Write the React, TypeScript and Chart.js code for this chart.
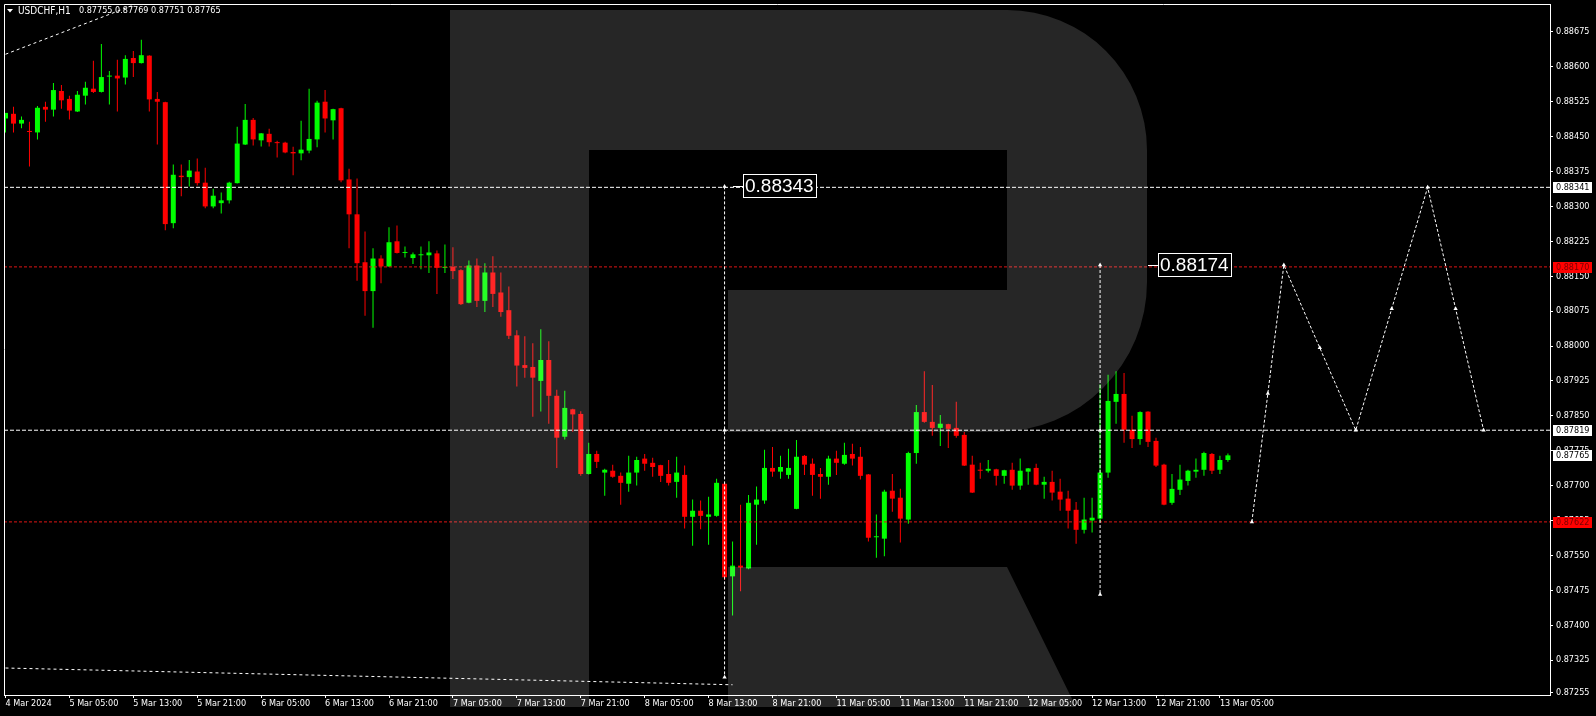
import { useEffect, useRef } from 'react';
import { Chart, registerables } from 'chart.js';

Chart.register(...registerables);

// ---- Candles (USDCHF H1, bar 0 = 4 Mar 21:00) ----
const openP = [
  0.88489, 0.88499, 0.88478, 0.88460, 0.88459, 0.88514, 0.88508, 0.88548, 0.88531, 0.88504,
  0.88538, 0.88553, 0.88546, 0.88579, 0.88581, 0.88577, 0.88619, 0.88608, 0.88624, 0.88531,
  0.88524, 0.88264, 0.88366, 0.88363, 0.88375, 0.88351, 0.88300, 0.88307, 0.88313, 0.88350,
  0.88433, 0.88486, 0.88442, 0.88456, 0.88437, 0.88437, 0.88417, 0.88414, 0.88420, 0.88444,
  0.88525, 0.88485, 0.88511, 0.88358, 0.88283, 0.88180, 0.88118, 0.88188, 0.88171, 0.88225,
  0.88200, 0.88189, 0.88195, 0.88195, 0.88199, 0.88168, 0.88170, 0.88163, 0.88093, 0.88173,
  0.88097, 0.88158, 0.88115, 0.88077, 0.88023, 0.87959, 0.87955, 0.87925, 0.87970, 0.87893,
  0.87805, 0.87864, 0.87854, 0.87725, 0.87768, 0.87728, 0.87732, 0.87721, 0.87704, 0.87728,
  0.87758, 0.87749, 0.87744, 0.87725, 0.87708, 0.87723, 0.87633, 0.87646, 0.87633, 0.87635,
  0.87704, 0.87505, 0.87528, 0.87522, 0.87659, 0.87668, 0.87738, 0.87730, 0.87723, 0.87650,
  0.87764, 0.87747, 0.87725, 0.87719, 0.87758, 0.87747, 0.87768, 0.87762, 0.87724, 0.87589,
  0.87586, 0.87689, 0.87674, 0.87627, 0.87770, 0.87858, 0.87837, 0.87824, 0.87832, 0.87824,
  0.87809, 0.87745, 0.87734, 0.87732, 0.87735, 0.87721, 0.87734, 0.87700, 0.87730, 0.87738,
  0.87702, 0.87708, 0.87687, 0.87672, 0.87648, 0.87605, 0.87625, 0.87629, 0.87728, 0.87880,
  0.87897, 0.87820, 0.87800, 0.87859, 0.87796, 0.87745, 0.87663, 0.87691, 0.87710, 0.87730,
  0.87734, 0.87768, 0.87734, 0.87755,
];
const highP = [
  0.88501, 0.88514, 0.88493, 0.88482, 0.88516, 0.88525, 0.88565, 0.88561, 0.88538, 0.88548,
  0.88568, 0.88613, 0.88649, 0.88591, 0.88615, 0.88625, 0.88634, 0.88658, 0.88625, 0.88546,
  0.88525, 0.88390, 0.88390, 0.88400, 0.88403, 0.88383, 0.88338, 0.88330, 0.88353, 0.88471,
  0.88520, 0.88490, 0.88458, 0.88467, 0.88441, 0.88439, 0.88428, 0.88484, 0.88553, 0.88527,
  0.88550, 0.88510, 0.88512, 0.88381, 0.88360, 0.88246, 0.88210, 0.88195, 0.88255, 0.88259,
  0.88214, 0.88201, 0.88214, 0.88225, 0.88205, 0.88218, 0.88212, 0.88165, 0.88184, 0.88188,
  0.88178, 0.88193, 0.88158, 0.88128, 0.88034, 0.88021, 0.88006, 0.88036, 0.88010, 0.87906,
  0.87904, 0.87865, 0.87860, 0.87792, 0.87775, 0.87736, 0.87745, 0.87728, 0.87764, 0.87762,
  0.87768, 0.87760, 0.87745, 0.87755, 0.87762, 0.87743, 0.87670, 0.87668, 0.87676, 0.87715,
  0.87706, 0.87580, 0.87659, 0.87680, 0.87698, 0.87777, 0.87783, 0.87764, 0.87779, 0.87798,
  0.87766, 0.87758, 0.87738, 0.87764, 0.87775, 0.87792, 0.87790, 0.87783, 0.87725, 0.87638,
  0.87691, 0.87725, 0.87693, 0.87773, 0.87873, 0.87946, 0.87916, 0.87852, 0.87833, 0.87880,
  0.87815, 0.87764, 0.87749, 0.87755, 0.87736, 0.87734, 0.87749, 0.87758, 0.87738, 0.87747,
  0.87719, 0.87732, 0.87715, 0.87689, 0.87665, 0.87674, 0.87674, 0.87918, 0.87938, 0.87946,
  0.87942, 0.87850, 0.87860, 0.87860, 0.87803, 0.87747, 0.87725, 0.87745, 0.87734, 0.87758,
  0.87773, 0.87770, 0.87764, 0.87769,
];
const lowP = [
  0.88459, 0.88459, 0.88468, 0.88386, 0.88444, 0.88482, 0.88493, 0.88510, 0.88487, 0.88503,
  0.88519, 0.88544, 0.88545, 0.88519, 0.88504, 0.88562, 0.88578, 0.88607, 0.88504, 0.88433,
  0.88249, 0.88253, 0.88322, 0.88343, 0.88345, 0.88296, 0.88296, 0.88285, 0.88306, 0.88349,
  0.88432, 0.88431, 0.88429, 0.88429, 0.88405, 0.88414, 0.88367, 0.88399, 0.88414, 0.88427,
  0.88459, 0.88444, 0.88352, 0.88210, 0.88140, 0.88065, 0.88039, 0.88135, 0.88170, 0.88199,
  0.88190, 0.88176, 0.88165, 0.88157, 0.88112, 0.88157, 0.88144, 0.88088, 0.88092, 0.88084,
  0.88073, 0.88084, 0.88063, 0.88015, 0.87913, 0.87932, 0.87848, 0.87859, 0.87833, 0.87738,
  0.87799, 0.87816, 0.87721, 0.87724, 0.87738, 0.87678, 0.87717, 0.87659, 0.87687, 0.87700,
  0.87732, 0.87719, 0.87708, 0.87700, 0.87674, 0.87608, 0.87571, 0.87606, 0.87573, 0.87633,
  0.87497, 0.87421, 0.87473, 0.87520, 0.87573, 0.87661, 0.87719, 0.87715, 0.87715, 0.87649,
  0.87723, 0.87678, 0.87672, 0.87702, 0.87723, 0.87745, 0.87743, 0.87713, 0.87580, 0.87545,
  0.87548, 0.87644, 0.87578, 0.87618, 0.87747, 0.87835, 0.87807, 0.87785, 0.87781, 0.87803,
  0.87742, 0.87684, 0.87715, 0.87728, 0.87700, 0.87704, 0.87691, 0.87691, 0.87702, 0.87701,
  0.87672, 0.87668, 0.87646, 0.87608, 0.87575, 0.87597, 0.87599, 0.87622, 0.87717, 0.87833,
  0.87792, 0.87781, 0.87788, 0.87783, 0.87740, 0.87658, 0.87659, 0.87680, 0.87700, 0.87717,
  0.87721, 0.87725, 0.87725, 0.87751,
];
const closeP = [
  0.88501, 0.88478, 0.88486, 0.88460, 0.88512, 0.88508, 0.88550, 0.88528, 0.88506, 0.88540,
  0.88555, 0.88546, 0.88578, 0.88581, 0.88575, 0.88617, 0.88608, 0.88625, 0.88530, 0.88525,
  0.88262, 0.88368, 0.88363, 0.88377, 0.88350, 0.88300, 0.88323, 0.88313, 0.88351, 0.88435,
  0.88486, 0.88444, 0.88457, 0.88438, 0.88436, 0.88416, 0.88414, 0.88422, 0.88445, 0.88523,
  0.88489, 0.88509, 0.88356, 0.88283, 0.88178, 0.88118, 0.88188, 0.88171, 0.88223, 0.88200,
  0.88201, 0.88197, 0.88196, 0.88201, 0.88168, 0.88169, 0.88161, 0.88090, 0.88173, 0.88097,
  0.88158, 0.88112, 0.88073, 0.88022, 0.87958, 0.87953, 0.87932, 0.87970, 0.87893, 0.87803,
  0.87867, 0.87853, 0.87725, 0.87768, 0.87751, 0.87734, 0.87719, 0.87706, 0.87728, 0.87755,
  0.87747, 0.87740, 0.87721, 0.87706, 0.87728, 0.87633, 0.87646, 0.87635, 0.87638, 0.87706,
  0.87503, 0.87528, 0.87524, 0.87663, 0.87670, 0.87738, 0.87730, 0.87740, 0.87738, 0.87762,
  0.87745, 0.87723, 0.87719, 0.87758, 0.87749, 0.87766, 0.87758, 0.87721, 0.87588, 0.87590,
  0.87687, 0.87672, 0.87629, 0.87770, 0.87858, 0.87837, 0.87824, 0.87833, 0.87822, 0.87807,
  0.87743, 0.87685, 0.87732, 0.87736, 0.87721, 0.87733, 0.87700, 0.87732, 0.87737, 0.87702,
  0.87708, 0.87685, 0.87670, 0.87646, 0.87605, 0.87627, 0.87631, 0.87728, 0.87882, 0.87897,
  0.87820, 0.87800, 0.87858, 0.87794, 0.87743, 0.87659, 0.87693, 0.87713, 0.87732, 0.87734,
  0.87770, 0.87732, 0.87755, 0.87765,
];

// ---- Axes ----
const xTickIdx = [0, 8, 16, 24, 32, 40, 48, 56, 64, 72, 80, 88, 96, 104, 112, 120, 128, 136, 144, 152];
const xTickLabels = [
  '4 Mar 2024', '5 Mar 05:00', '5 Mar 13:00', '5 Mar 21:00', '6 Mar 05:00', '6 Mar 13:00',
  '6 Mar 21:00', '7 Mar 05:00', '7 Mar 13:00', '7 Mar 21:00', '8 Mar 05:00', '8 Mar 13:00',
  '8 Mar 21:00', '11 Mar 05:00', '11 Mar 13:00', '11 Mar 21:00', '12 Mar 05:00', '12 Mar 13:00',
  '12 Mar 21:00', '13 Mar 05:00',
];
const yTickValues = [
  0.88675, 0.886, 0.88525, 0.8845, 0.88375, 0.883, 0.88225, 0.8815, 0.88075, 0.88,
  0.87925, 0.8785, 0.87775, 0.877, 0.87625, 0.8755, 0.87475, 0.874, 0.87325, 0.87255,
];

// ---- Drawn objects ----
const whiteLevels = [0.88341, 0.87819];
const redLevels = [0.8817, 0.87622];
const axisTagValues = [0.88341, 0.8817, 0.87819, 0.87622];
const axisTagRed = [false, true, false, true];

const vLineBars = [90, 137];
const vLine1Prices = [0.88343, 0.87819, 0.87288];
const vLine2Prices = [0.88174, 0.87819, 0.87466];

const priceTagBars = [91, 143];
const priceTagValues = [0.88343, 0.88174];

const forecastBars = [156, 158, 160, 164.5, 169, 173.5, 178, 181.5, 185];
const forecastPrices = [0.87622, 0.87898, 0.88174, 0.87996, 0.87819, 0.8808, 0.88341, 0.8808, 0.87819];

const upperTrendBars = [0, 20];
const upperTrendPrices = [0.88627, 0.88759];
const lowerTrendBars = [0, 91];
const lowerTrendPrices = [0.87308, 0.87272];

const symbolText = 'USDCHF,H1';

const FONT = "'DejaVu Sans Condensed', 'Liberation Sans', Arial, sans-serif";
const BIG_FONT = "'Liberation Sans', Arial, sans-serif";

export default function App() {
  const ref = useRef<HTMLCanvasElement | null>(null);

  useEffect(() => {
    const canvas = ref.current;
    if (!canvas) return;
    const n = openP.length;
    const last = n - 1;
    const X_MIN = -0.1875;
    const X_MAX = 193.3125;
    const Y_MIN = 0.8725;
    const Y_MAX = 0.88735;
    const UP = '#00ff00';
    const DOWN = '#ff0000';
    const RED_LINE = '#e01414';
    const colors = openP.map((o, i) => (closeP[i] > o ? UP : DOWN));

    const hline = (v: number, color: string, dash: number[]) => ({
      type: 'line',
      data: [{ x: X_MIN, y: v }, { x: X_MAX, y: v }],
      borderColor: color,
      borderWidth: 1,
      borderDash: dash,
      pointRadius: 0,
      order: 1,
    });
    const marked = (xs: number[], ys: number[], dash: number[], radius: number) => ({
      type: 'line',
      data: xs.map((x, i) => ({ x, y: ys[i] })),
      borderColor: '#ffffff',
      borderWidth: 1,
      borderDash: dash,
      pointRadius: radius,
      pointStyle: 'triangle',
      pointBackgroundColor: '#ffffff',
      pointBorderColor: '#ffffff',
      pointBorderWidth: 0,
      tension: 0,
      order: 0,
    });

    const datasets: any[] = [
      {
        type: 'bar',
        data: lowP.map((l, i) => ({ x: i, y: [l, highP[i]] })),
        backgroundColor: colors,
        barThickness: 1,
        grouped: false,
        minBarLength: 1,
        inflateAmount: 0,
        order: 6,
      },
      {
        type: 'bar',
        data: openP.map((o, i) => ({ x: i, y: [o, closeP[i]] })),
        backgroundColor: colors,
        barThickness: 5,
        grouped: false,
        minBarLength: 1,
        inflateAmount: 0,
        order: 5,
      },
    ];
    whiteLevels.forEach((v) => datasets.push(hline(v, '#ffffff', [4, 2])));
    redLevels.forEach((v) => datasets.push(hline(v, RED_LINE, [3, 2])));
    datasets.push(marked(upperTrendBars, upperTrendPrices, [3, 3], 0));
    datasets.push(marked(lowerTrendBars, lowerTrendPrices, [3, 3], 0));
    datasets.push(marked(vLine1Prices.map(() => vLineBars[0]), vLine1Prices, [3, 2], 2.5));
    datasets.push(marked(vLine2Prices.map(() => vLineBars[1]), vLine2Prices, [3, 2], 2.5));
    datasets.push(marked(forecastBars, forecastPrices, [3, 2], 2.5));

    const overlay = {
      id: 'mt4overlay',
      beforeDraw(chart: any) {
        const c = chart.ctx;
        c.save();
        c.fillStyle = '#000000';
        c.fillRect(0, 0, chart.width, chart.height);
        c.restore();
      },
      afterDraw(chart: any) {
        const c = chart.ctx;
        const a = chart.chartArea;
        const xs = chart.scales.x;
        const ys = chart.scales.y;
        c.save();

        // frame (left + top)
        c.strokeStyle = '#ffffff';
        c.lineWidth = 1;
        c.setLineDash([]);
        c.beginPath();
        c.moveTo(a.left + 0.5, a.bottom);
        c.lineTo(a.left + 0.5, a.top + 0.5);
        c.lineTo(a.right, a.top + 0.5);
        c.stroke();

        // watermark logo (translucent)
        c.fillStyle = 'rgba(255,255,255,0.15)';
        c.beginPath();
        c.moveTo(450, 10);
        c.lineTo(1007, 10);
        c.arcTo(1147, 10, 1147, 150, 140);
        c.lineTo(1147, 282);
        c.arcTo(1147, 432, 997, 432, 150);
        c.lineTo(728, 432);
        c.lineTo(728, 290);
        c.lineTo(1007, 290);
        c.lineTo(1007, 150);
        c.lineTo(589, 150);
        c.lineTo(589, 707);
        c.lineTo(450, 707);
        c.closePath();
        c.moveTo(728, 567);
        c.lineTo(1007, 567);
        c.lineTo(1076, 707);
        c.lineTo(728, 707);
        c.closePath();
        c.fill();

        // price tags on chart
        c.font = `19px ${BIG_FONT}`;
        c.textBaseline = 'middle';
        c.textAlign = 'left';
        priceTagBars.forEach((b, i) => {
          const px = Math.round(xs.getPixelForValue(b));
          const py = Math.round(ys.getPixelForValue(priceTagValues[i]));
          c.strokeStyle = '#ffffff';
          c.beginPath();
          c.moveTo(px, py + 0.5);
          c.lineTo(px + 10, py + 0.5);
          c.stroke();
          c.fillStyle = '#000000';
          c.fillRect(px + 10, py - 12, 74, 24);
          c.strokeRect(px + 10.5, py - 11.5, 73, 23);
          c.fillStyle = '#ffffff';
          c.fillText(priceTagValues[i].toFixed(5), px + 12, py + 1);
        });

        // axis tags
        c.font = `9px ${FONT}`;
        const tags = axisTagValues.map((v, i) => ({ v, red: axisTagRed[i] }));
        tags.push({ v: closeP[last], red: false });
        tags.forEach((t) => {
          const py = Math.round(ys.getPixelForValue(t.v));
          c.fillStyle = t.red ? '#ff0000' : '#ffffff';
          c.fillRect(a.right + 3, py - 5, 39, 11);
          c.fillStyle = t.red ? '#7a0000' : '#000000';
          c.fillText(t.v.toFixed(5), a.right + 6, py + 0.5);
        });

        // header
        c.fillStyle = '#ffffff';
        c.beginPath();
        c.moveTo(7, 9);
        c.lineTo(13, 9);
        c.lineTo(10, 12.5);
        c.closePath();
        c.fill();
        c.font = `10px ${FONT}`;
        c.fillText(symbolText, 18, 11);
        c.font = `9px ${FONT}`;
        const ohlc = [openP[last], highP[last], lowP[last], closeP[last]].map((v) => v.toFixed(5)).join(' ');
        c.fillText(ohlc, 79, 11);
        c.restore();
      },
    };

    const chart = new Chart(canvas, {
      type: 'bar',
      data: { datasets },
      options: {
        animation: false,
        responsive: false,
        devicePixelRatio: 1,
        events: [],
        layout: { padding: { left: 2, top: 2, right: 0, bottom: 0 } },
        plugins: { legend: { display: false }, tooltip: { enabled: false } },
        scales: {
          x: {
            type: 'linear',
            min: X_MIN,
            max: X_MAX,
            offset: false,
            position: 'bottom',
            grid: { display: true, drawOnChartArea: false, drawTicks: true, tickLength: 3, color: '#ffffff', offset: false },
            border: { display: true, color: '#ffffff', width: 1 },
            ticks: {
              autoSkip: false,
              maxRotation: 0,
              minRotation: 0,
              align: 'start',
              padding: 0,
              color: '#ffffff',
              font: { family: FONT, size: 9 },
              callback: (_v: any, i: number) => xTickLabels[i] ?? '',
            },
            afterBuildTicks: (s: any) => {
              s.ticks = xTickIdx.map((v) => ({ value: v }));
            },
            afterFit: (s: any) => {
              s.height = 21;
              s.paddingLeft = 0;
              s.paddingRight = 0;
            },
          },
          y: {
            type: 'linear',
            position: 'right',
            min: Y_MIN,
            max: Y_MAX,
            grid: { display: true, drawOnChartArea: false, drawTicks: true, tickLength: 3, color: '#ffffff' },
            border: { display: true, color: '#ffffff', width: 1 },
            ticks: {
              padding: 3,
              color: '#ffffff',
              font: { family: FONT, size: 9 },
              callback: (v: any) => Number(v).toFixed(5),
            },
            afterBuildTicks: (s: any) => {
              s.ticks = yTickValues.map((v) => ({ value: v }));
            },
            afterFit: (s: any) => {
              s.width = 46;
              s.paddingTop = 0;
              s.paddingBottom = 0;
            },
          },
        },
      } as any,
      plugins: [overlay],
    });

    return () => chart.destroy();
  }, []);

  return (
    <div style={{ position: 'absolute', left: 0, top: 0, width: 1596, height: 716, background: '#000' }}>
      <canvas ref={ref} width={1596} height={716} style={{ display: 'block' }} />
    </div>
  );
}
